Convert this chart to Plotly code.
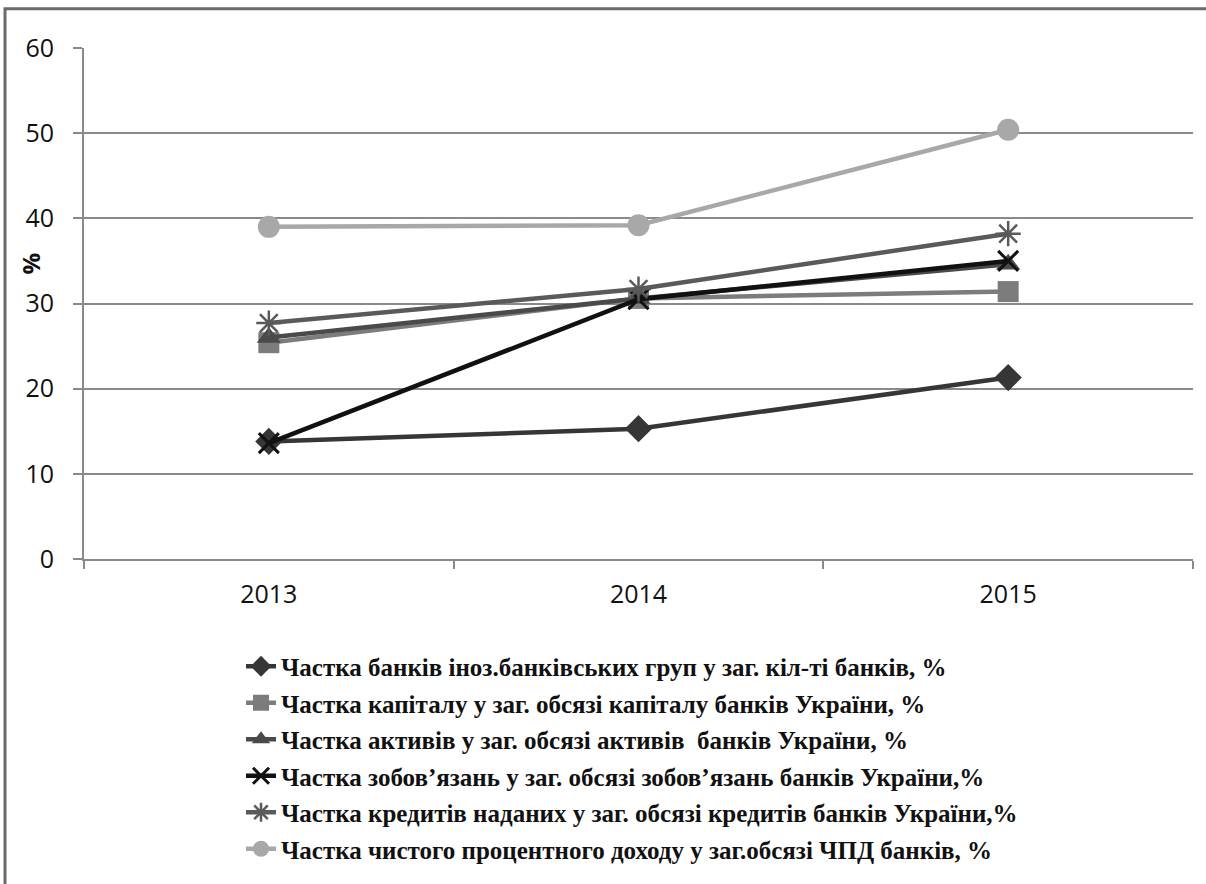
import plotly.graph_objects as go

# Years on the category axis
years = ["2013", "2014", "2015"]

# Shares of foreign banking groups in the Ukrainian banking system, %
banks_count = [13.8, 15.3, 21.3]
capital = [25.4, 30.6, 31.4]
assets = [26.0, 30.6, 34.6]
liabilities = [13.6, 30.5, 35.0]
loans = [27.7, 31.7, 38.2]
net_interest_income = [39.0, 39.2, 50.4]

series_names = [
    "Частка банків іноз.банківських груп у заг. кіл-ті банків, %",
    "Частка капіталу у заг. обсязі капіталу банків України, %",
    "Частка активів у заг. обсязі активів  банків України, %",
    "Частка зобов’язань у заг. обсязі зобов’язань банків України,%",
    "Частка кредитів наданих у заг. обсязі кредитів банків України,%",
    "Частка чистого процентного доходу у заг.обсязі ЧПД банків, %",
]
series_values = [banks_count, capital, assets, liabilities, loans, net_interest_income]

styles = [
    dict(color="#363636", symbol="diamond", size=21, lw=0),
    dict(color="#7c7c7c", symbol="square", size=21, lw=0),
    dict(color="#4a4a4a", symbol="triangle-up", size=21, lw=0),
    dict(color="#111111", symbol="x-thin-open", size=20, lw=3),
    dict(color="#5a5a5a", symbol="asterisk-open", size=21, lw=2.5),
    dict(color="#a8a8a8", symbol="circle", size=22, lw=0),
]

fig = go.Figure()
for i, (name, vals, st) in enumerate(zip(series_names, series_values, styles)):
    fig.add_trace(go.Scatter(
        x=years, y=vals, name=name, mode="lines+markers",
        legendgroup=f"g{i}",
        line=dict(color=st["color"], width=4.5),
        marker=dict(symbol=st["symbol"], size=st["size"], color=st["color"],
                    line=dict(color=st["color"], width=st["lw"])),
    ))

W, H = 1206, 884
L, R, T, B = 84, 13, 48, 316
pw, ph = W - L - R, H - T - B

fig.update_layout(
    width=W, height=H,
    margin=dict(l=L, r=R, t=T, b=B),
    paper_bgcolor="white", plot_bgcolor="white",
    showlegend=True,
    legend=dict(
        x=(241 - L) / pw, y=-(654 - (T + ph)) / ph,
        xanchor="left", yanchor="top",
        font=dict(family="Liberation Serif", size=25, color="#111111", weight="bold"),
        tracegroupgap=1, bgcolor="rgba(0,0,0,0)",
    ),
    xaxis=dict(
        type="category", range=[-0.5, 2.5], automargin=False,
        showgrid=False, showline=True, linecolor="#8a8a8a", linewidth=2,
        ticks="outside", tickson="boundaries", ticklen=8, tickwidth=2, tickcolor="#8a8a8a",
        tickfont=dict(family="Open Sans", size=25, color="#111111"),
        ticklabelstandoff=12,
    ),
    yaxis=dict(
        range=[0, 60], dtick=10, automargin=False,
        showgrid=True, gridcolor="#8a8a8a", gridwidth=1.5,
        showline=True, linecolor="#8a8a8a", linewidth=2,
        ticks="outside", ticklen=9, tickwidth=2, tickcolor="#8a8a8a",
        tickfont=dict(family="Open Sans", size=25, color="#111111"),
        ticklabelstandoff=14, zeroline=False,
    ),
    annotations=[dict(
        text="<b>%</b>", xref="paper", yref="y",
        x=(30 - L) / pw, y=34.7, xanchor="center", yanchor="middle",
        textangle=-90, showarrow=False,
        font=dict(family="Open Sans", size=24, color="#111111"),
    )],
)

# Chart frame (left and top edges run along the page)
fig.add_shape(type="rect", xref="paper", yref="paper",
              x0=(5 - L) / pw, x1=(W + 20 - L) / pw,
              y0=-(H + 20 - (T + ph)) / ph, y1=((T + ph) - 8) / ph,
              line=dict(color="#6a6a6a", width=3), layer="below")

fig.write_html("out.html")
